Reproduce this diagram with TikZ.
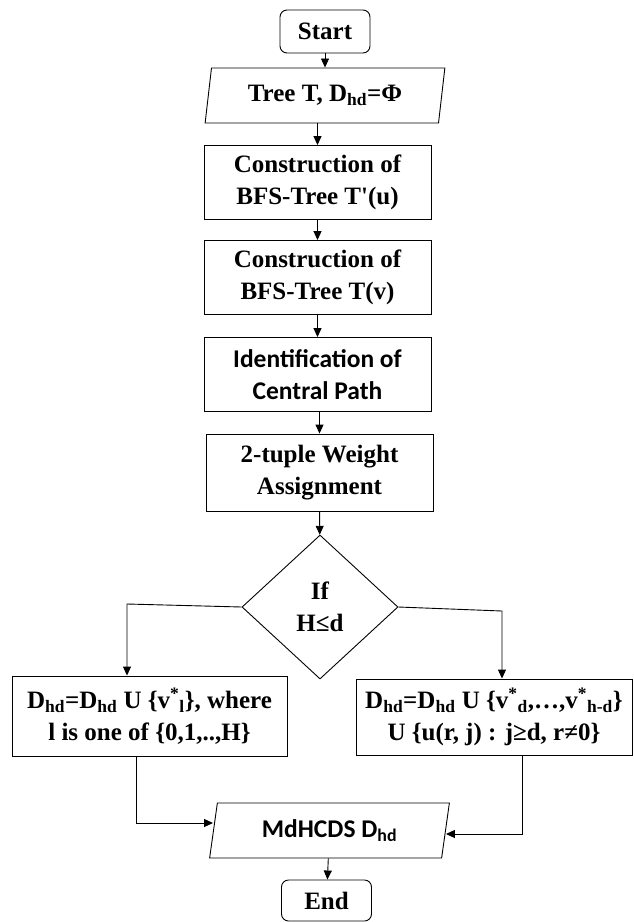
\documentclass[tikz,border=0pt]{standalone}
\usepackage{fontspec}
\setmainfont{Liberation Serif}
\newfontfamily\calfont{Carlito}
\usetikzlibrary{shapes.geometric,arrows.meta}
\tikzstyle{terminal}=[rectangle, rounded corners=7pt, draw, minimum width=90pt, minimum height=43pt, inner sep=0pt]
\tikzstyle{process}=[rectangle, draw, minimum width=227pt, minimum height=74pt, inner sep=0pt, align=center]
\tikzstyle{io}=[trapezium, trapezium left angle=78, trapezium right angle=102, trapezium stretches=true, draw, minimum width=240pt, minimum height=55pt, inner sep=0pt]
\tikzstyle{decision}=[diamond, draw, minimum width=156pt, minimum height=144pt, inner sep=0pt, align=center]
\tikzstyle{arr}=[-{Triangle[length=9pt,width=8pt]}]
\newcommand{\subt}[1]{\textsubscript{#1}}
\newcommand{\supt}[1]{\textsuperscript{#1}}

\begin{document}
\begin{tikzpicture}[x=1pt, y=-1pt, line width=0.9pt, font=\fontsize{25}{32}\selectfont\bfseries]
\useasboundingbox (0,0) rectangle (633,922);
% main column
\node[terminal] (start) at (325,31.5) {Start};
\node[io] (tree) at (325,95.5) {Tree T, D\subt{hd}=Φ};
\node[process] (bfsu) at (317.5,182.5) {Construction of\\BFS-Tree T\textquotesingle(u)};
\node[process] (bfsv) at (317.5,277.5) {Construction of\\BFS-Tree T(v)};
\node[process, font=\calfont\fontsize{25.5}{32}\selectfont\bfseries] (path) at (317.5,374.5) {Identification of\\Central Path};
\node[process, minimum height=77pt] (weight) at (319.5,472.5) {2-tuple Weight\\Assignment};
\node[decision] (dec) at (320,607) {If\\H≤d};
% branches
\node[process, minimum width=275pt, minimum height=80pt] (lbox) at (149.5,716) {D\subt{hd}=D\subt{hd} U \{v\supt{*}\subt{l}\}, where\\l is one of \{0,1,..,H\}};
\node[process, minimum width=276pt, minimum height=76pt] (rbox) at (494,717) {D\subt{hd}=D\subt{hd} U \{v\supt{*}\subt{d},…,v\supt{*}\subt{h-d}\}\\U \{u(r, j) : j≥d, r≠0\}};
\node[io, font=\calfont\fontsize{25.5}{32}\selectfont\bfseries] (out) at (329.5,830.5) {MdHCDS D\subt{hd}};
\node[terminal, minimum height=41pt] (end) at (326.5,900.5) {End};
\coordinate (lcorner) at (127,604);
\coordinate (rcorner) at (502,611);
\coordinate (lbend) at (136,823);
\coordinate (rbend) at (522,834);
% connectors
\draw[arr] (start) -- (tree);
\draw[arr] (bfsu |- tree.south) -- (bfsu);
\draw[arr] (bfsv |- bfsu.south) -- (bfsv);
\draw[arr] (path |- bfsv.south) -- (path);
\draw[arr] (weight |- path.south) -- (weight);
\draw[arr] (weight) -- (dec);
\draw[arr] (dec.west) -- (lcorner) -- (lcorner |- lbox.north);
\draw[arr] (dec.east) -- (rcorner) -- (rcorner |- rbox.north);
\draw[arr] (lbend |- lbox.south) -- (lbend) -- (lbend -| out.west);
\draw[arr] (rbend |- rbox.south) -- (rbend) -- (rbend -| out.east);
\draw[arr] (out) -- (end);
\end{tikzpicture}
\end{document}
